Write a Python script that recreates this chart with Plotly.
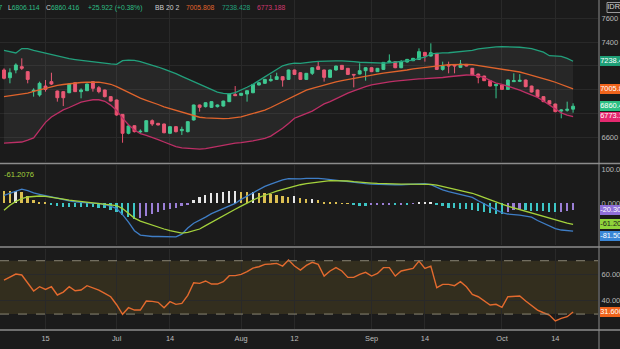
import plotly.graph_objects as go

# ---------------- data ----------------
tick_days = [7, 19, 28, 40, 49, 62, 71, 84, 93]
tick_labels = ["15", "Jul", "14", "Aug", "12", "Sep", "14", "Oct", "14"]

# price grid levels; the ones sitting under last-value markers carry no label
price_levels = [6600, 6800, 7000, 7200, 7400, 7600]
price_level_labels = ["6600", "", "", "", "7400", "7600"]

open_ = [7165, 7100, 7165, 7193, 7151, 6988, 6955, 7030, 7067, 6988,
         6983, 6974, 7058, 6983, 6991, 7067, 7016, 6997, 6941, 6913,
         6792, 6633, 6697, 6645, 6647, 6739, 6717, 6711, 6633, 6689,
         6655, 6647, 6745, 6871, 6857, 6851, 6857, 6862, 6899, 6960,
         6952, 6963, 6974, 7039, 7053, 7075, 7086, 7109, 7086, 7165,
         7142, 7086, 7137, 7193, 7165, 7103, 7165, 7204, 7179, 7128,
         7131, 7159, 7184, 7151, 7170, 7229, 7235, 7184, 7232, 7243,
         7254, 7313, 7282, 7305, 7170, 7210, 7210, 7187, 7212, 7179,
         7131, 7114, 7075, 7033, 7039, 7002, 7067, 7070, 7081, 7030,
         6997, 6941, 6907, 6879, 6820, 6826, 6836]
high = [7179, 7179, 7221, 7263, 7155, 7011, 7067, 7081, 7142, 6992,
        6986, 7050, 7062, 7011, 7050, 7070, 7030, 7000, 6945, 6916,
        6795, 6700, 6700, 6666, 6742, 6750, 6720, 6715, 6692, 6692,
        6689, 6734, 6874, 6874, 6893, 6902, 6875, 6907, 6966, 7030,
        6972, 6994, 7047, 7062, 7090, 7123, 7142, 7112, 7168, 7168,
        7146, 7140, 7187, 7235, 7168, 7168, 7201, 7207, 7182, 7130,
        7221, 7187, 7187, 7182, 7232, 7296, 7238, 7249, 7258, 7266,
        7347, 7316, 7389, 7308, 7235, 7235, 7212, 7249, 7215, 7182,
        7134, 7117, 7078, 7047, 7042, 7084, 7137, 7130, 7084, 7033,
        7000, 6944, 6910, 6882, 6835, 6899, 6885.247]
low = [7086, 7053, 7137, 7165, 7053, 6941, 6941, 6983, 7039, 6899,
       6862, 6970, 6980, 6927, 6988, 6983, 6969, 6935, 6900, 6780,
       6554, 6625, 6640, 6633, 6644, 6695, 6700, 6633, 6628, 6640,
       6619, 6640, 6740, 6815, 6850, 6846, 6850, 6858, 6895, 6946,
       6948, 6899, 6970, 7035, 7050, 7067, 7084, 7025, 7082, 7125,
       7082, 7082, 7123, 7165, 7067, 7100, 7160, 7165, 7125, 7019,
       7128, 7075, 7148, 7148, 7165, 7226, 7180, 7180, 7228, 7240,
       7250, 7235, 7278, 7165, 7159, 7137, 7137, 7184, 7195, 7120,
       7053, 7072, 7027, 6927, 6998, 6998, 7064, 7066, 7020, 6976,
       6937, 6895, 6875, 6810, 6759, 6815, 6806.114]
close = [7095, 7142, 7207, 7179, 7086, 6994, 7053, 7002, 7047, 6932,
         6932, 7047, 6983, 6997, 7047, 7011, 6983, 6941, 6904, 6787,
         6633, 6695, 6647, 6650, 6739, 6711, 6703, 6638, 6689, 6647,
         6666, 6731, 6871, 6851, 6890, 6899, 6871, 6904, 6963, 6949,
         6969, 6991, 7044, 7058, 7086, 7086, 7109, 7081, 7165, 7128,
         7086, 7137, 7184, 7170, 7103, 7165, 7198, 7170, 7128, 7123,
         7159, 7184, 7151, 7179, 7229, 7240, 7184, 7235, 7254, 7263,
         7319, 7282, 7310, 7170, 7198, 7198, 7198, 7215, 7198, 7123,
         7103, 7075, 7030, 7044, 7002, 7081, 7075, 7078, 7025, 6980,
         6941, 6899, 6879, 6815, 6829, 6834.494, 6860.416]

bb_upper = [7330, 7318, 7308, 7345, 7345, 7330, 7318, 7305, 7292, 7280,
            7268, 7260, 7253, 7246, 7240, 7235, 7230, 7223, 7216, 7212,
            7243, 7248, 7245, 7235, 7222, 7208, 7190, 7172, 7155, 7135,
            7112, 7090, 7068, 7050, 7025, 7000, 6980, 6968, 6965, 6975,
            6995, 7020, 7045, 7075, 7105, 7140, 7170, 7200, 7215, 7222,
            7220, 7228, 7234, 7237, 7240, 7240, 7241, 7241, 7240, 7236,
            7230, 7228, 7224, 7221, 7222, 7226, 7230, 7236, 7242, 7248,
            7262, 7272, 7300, 7306, 7308, 7310, 7314, 7318, 7320, 7330,
            7342, 7350, 7356, 7360, 7362, 7362, 7360, 7356, 7350, 7345,
            7330, 7315, 7285, 7285, 7280, 7262, 7238.428]
bb_mid = [6942, 6948, 6955, 6962, 6970, 6985, 6998, 7012, 7025, 7035,
          7043, 7050, 7055, 7060, 7062, 7064, 7063, 7055, 7045, 7025,
          7000, 6978, 6950, 6928, 6910, 6895, 6875, 6855, 6840, 6825,
          6810, 6795, 6782, 6768, 6762, 6758, 6756, 6756, 6758, 6762,
          6772, 6785, 6800, 6815, 6828, 6850, 6875, 6900, 6925, 6950,
          6970, 6995, 7010, 7025, 7040, 7053, 7065, 7076, 7086, 7096,
          7106, 7116, 7123, 7131, 7138, 7144, 7150, 7158, 7165, 7175,
          7182, 7188, 7196, 7200, 7204, 7209, 7211, 7212, 7212, 7210,
          7203, 7196, 7188, 7180, 7173, 7166, 7158, 7148, 7135, 7122,
          7108, 7092, 7078, 7062, 7044, 7025, 7005.808]
bb_lower = [6550, 6552, 6555, 6560, 6575, 6595, 6660, 6725, 6770, 6800,
            6830, 6850, 6875, 6895, 6905, 6915, 6915, 6902, 6870, 6825,
            6760, 6705, 6660, 6630, 6615, 6600, 6580, 6560, 6540, 6522,
            6510, 6505, 6500, 6500, 6505, 6515, 6522, 6535, 6545, 6550,
            6555, 6560, 6570, 6580, 6590, 6610, 6640, 6675, 6715, 6760,
            6780, 6800, 6820, 6850, 6880, 6900, 6925, 6950, 6970, 6990,
            7010, 7025, 7040, 7050, 7058, 7065, 7072, 7078, 7082, 7086,
            7090, 7092, 7094, 7096, 7102, 7108, 7115, 7120, 7123, 7122,
            7115, 7100, 7075, 7055, 7045, 7030, 7010, 6995, 6975, 6955,
            6935, 6905, 6870, 6840, 6805, 6785, 6773.188]

macd_line = [24, 30, 38, 42, 38, 31, 27, 23, 18, 14,
             11, 8, 5, 3, 1, 0, 0, -3, -8, -15,
             -33, -55, -80, -93, -96, -97, -97, -98, -98, -98,
             -90, -72, -58, -50, -40, -30, -22, -14, -7, 0,
             12, 22, 30, 40, 50, 57, 64, 69, 73, 72,
             72, 74, 75, 74, 72, 70, 67, 64, 62, 60,
             59, 58, 57, 56, 55, 55, 55, 55, 56, 57,
             58, 58, 55, 47, 40, 35, 31, 28, 24, 18,
             8, 0, -10, -19, -27, -31, -32, -34, -37, -40,
             -50, -58, -66, -74, -78, -80, -81.5]
signal_line = [-20, -5, 6, 14, 19, 21, 22, 21, 19, 16,
               13, 10, 8, 6, 4, 3, 2, 0, -2, -6,
               -15, -30, -43, -52, -58, -65, -70, -75, -80, -84,
               -87, -85, -80, -75, -65, -55, -46, -35, -25, -17,
               -8, 2, 10, 18, 25, 30, 36, 41, 46, 51,
               55, 58, 61, 63, 65, 67, 67, 67, 66, 64,
               62, 61, 60, 59, 58, 57, 57, 57, 57, 57,
               57, 57, 56, 54, 50, 46, 42, 38, 35, 30,
               24, 17, 10, 3, -2, -8, -13, -18, -23, -28,
               -33, -40, -45, -50, -55, -58, -61.2076]
macd_hist = [38, 36, 38, 34, 22, 10, 5, 2, -2, -8,
             -9, -9.5, -10, -10.5, -11, -11.5, -12, -14, -18, -26,
             -34, -41, -46, -44, -38, -31, -25, -20, -16, -12,
             -8, -3, 10, 19, 26, 30, 32, 34, 36, 37,
             35, 34, 35, 32, 30, 28, 26, 23, 20, 21,
             15, 13, 14, 10, 5, 3, 2, 1, 0.5, -4,
             -6, -6.5, -5, -4.5, -4, -3, -4, -2, -3, -1,
             2, 2.5, 3, -3, -8, -12, -13, -15, -16, -18,
             -22, -25, -28, -30, -31, -25, -20, -18, -19, -21,
             -22, -23, -24, -25, -24, -22, -20.3]

rsi = [55.5, 58, 60, 59.3, 53, 47.3, 50.5, 48.5, 50.5, 44.3,
       46.5, 50.5, 47.5, 48, 51.3, 49.5, 48, 45.5, 43, 37,
       29.8, 34.8, 33, 33, 39.8, 39.5, 38.8, 34.8, 39.3, 37.3,
       38, 44, 53.5, 53, 54.8, 52.5, 52.5, 54.3, 58.8, 58.8,
       59.8, 61.8, 64.5, 65.5, 67.3, 67.5, 68, 66, 70.5, 66,
       63, 66.5, 68.8, 67.3, 58.5, 62.3, 64.8, 62.3, 57.5, 57.5,
       59.8, 61.3, 58.5, 60.5, 64.8, 64.8, 58.5, 62.3, 63.5, 64.3,
       69.8, 64.3, 66, 49.8, 52.3, 52.3, 51.3, 54.3, 50.5, 44.8,
       43, 40, 36.8, 37.3, 35, 43, 43.5, 43.5, 39.8, 36.3,
       33, 31, 29.3, 24.8, 26.8, 28, 31.6]

day = list(range(len(close)))

# ---------------- styling ----------------
W, H = 620, 349
BG = "#1b1b1b"
GRID = "#292929"
SEP = "#8c8c8c"
TXT = "#b8b8b8"
FONT = "Liberation Sans, Arial, sans-serif"
UP, DOWN = "#35c78d", "#e8506d"
C_UPPER, C_MID, C_LOWER = "#22a07c", "#e0642c", "#bd2f66"
C_MACD, C_SIGNAL = "#3f7ec6", "#a4d23c"
C_RSI = "#e36a2e"
H_WHITE, H_YELLOW, H_TEAL, H_PURPLE = "#e6e6e6", "#dcbf52", "#3dc6c6", "#9b7fd6"
X_END = 598 / W
SCALE_X0 = 599 / W

# pane rows (pixels from the top) and value ranges
PRICE_ROWS, PRICE_RANGE = (0, 162), (6392, 7753)
MACD_ROWS, MACD_RANGE = (165, 245), (-122, 113)
RSI_ROWS, RSI_RANGE = (249, 329), (18.8, 78.8)


def py(row):
    """paper y for a pixel row counted from the top"""
    return 1 - row / H


def dom(rows):
    return [py(rows[1]), py(rows[0])]


def hist_colour(k):
    v = macd_hist[k]
    prev = macd_hist[k - 1] if k else v + 1
    if v >= 0:
        return H_WHITE if v > prev else H_YELLOW
    return H_TEAL if v < prev else H_PURPLE


fig = go.Figure()

# Bollinger bands
fig.add_trace(go.Scatter(x=day, y=bb_upper, mode="lines", yaxis="y",
                         line=dict(color=C_UPPER, width=1.3), hoverinfo="skip"))
fig.add_trace(go.Scatter(x=day, y=bb_lower, mode="lines", yaxis="y",
                         line=dict(color=C_LOWER, width=1.3), fill="tonexty",
                         fillcolor="rgba(255,255,255,0.055)", hoverinfo="skip"))
fig.add_trace(go.Scatter(x=day, y=bb_mid, mode="lines", yaxis="y",
                         line=dict(color=C_MID, width=1.3), hoverinfo="skip"))

# candles
fig.add_trace(go.Candlestick(
    x=day, open=open_, high=high, low=low, close=close, yaxis="y",
    increasing=dict(line=dict(color=UP, width=1), fillcolor=UP),
    decreasing=dict(line=dict(color=DOWN, width=1), fillcolor=DOWN),
    whiskerwidth=0, hoverinfo="skip"))

# MACD
fig.add_trace(go.Bar(x=day, y=macd_hist, yaxis="y2", width=0.3,
                     marker=dict(color=[hist_colour(k) for k in day], line=dict(width=0)),
                     hoverinfo="skip"))
fig.add_trace(go.Scatter(x=day, y=macd_line, mode="lines", yaxis="y2",
                         line=dict(color=C_MACD, width=1.3), hoverinfo="skip"))
fig.add_trace(go.Scatter(x=day, y=signal_line, mode="lines", yaxis="y2",
                         line=dict(color=C_SIGNAL, width=1.3), hoverinfo="skip"))

# RSI
fig.add_trace(go.Scatter(x=day, y=rsi, mode="lines", yaxis="y3",
                         line=dict(color=C_RSI, width=1.4), hoverinfo="skip"))

axis_common = dict(side="right", anchor="x", showline=False, zeroline=False,
                   ticks="outside", ticklen=1, tickcolor=BG, ticklabelstandoff=0,
                   automargin=False,
                   tickfont=dict(size=7.5, color=TXT, family=FONT),
                   gridcolor=GRID, gridwidth=1, fixedrange=True)
hidden = dict(visible=False, fixedrange=True, showgrid=False, zeroline=False,
              automargin=False)

fig.update_layout(
    width=W, height=H, margin=dict(l=0, r=0, t=0, b=0, pad=0, autoexpand=False),
    paper_bgcolor=BG, plot_bgcolor=BG, showlegend=False, bargap=0,
    font=dict(family=FONT, color=TXT, size=7),
    xaxis=dict(domain=[0, X_END], range=[-0.675, 100.2], anchor="y3",
               tickmode="array", tickvals=tick_days, ticktext=tick_labels,
               showgrid=True, gridcolor=GRID, zeroline=False, showline=False, ticks="",
               ticklabelstandoff=4, color=TXT, automargin=False,
               tickfont=dict(size=7.4, color="#bdbdbd", family=FONT),
               rangeslider=dict(visible=False), fixedrange=True),
    yaxis=dict(domain=dom(PRICE_ROWS), range=list(PRICE_RANGE),
               tickmode="array", tickvals=price_levels, ticktext=price_level_labels,
               showgrid=True, **axis_common),
    yaxis2=dict(domain=dom(MACD_ROWS), range=list(MACD_RANGE),
                tickmode="array", tickvals=[0, 100], ticktext=["0.000", "100.000"],
                showgrid=False, **axis_common),
    yaxis3=dict(domain=dom(RSI_ROWS), range=list(RSI_RANGE),
                tickmode="array", tickvals=[40, 60], ticktext=["40.00", "60.00"],
                showgrid=True, **axis_common),
    # price-scale strip used for the last-value markers
    xaxis2=dict(domain=[SCALE_X0, 1], range=[0, 21], anchor="y4", **hidden),
    yaxis4=dict(domain=dom(PRICE_ROWS), range=list(PRICE_RANGE), anchor="x2", **hidden),
    yaxis5=dict(domain=dom(MACD_ROWS), range=list(MACD_RANGE), anchor="x2", **hidden),
    yaxis6=dict(domain=dom(RSI_ROWS), range=list(RSI_RANGE), anchor="x2", **hidden),
)

shapes = [
    # RSI 30-70 zone
    dict(type="rect", xref="paper", yref="y3", x0=0, x1=X_END, y0=30, y1=70,
         fillcolor="#332e1e", line=dict(width=0), layer="below"),
    dict(type="line", xref="paper", yref="y3", x0=0, x1=X_END, y0=70, y1=70,
         line=dict(color="#8a8674", width=1, dash="dash"), layer="above"),
    dict(type="line", xref="paper", yref="y3", x0=0, x1=X_END, y0=30, y1=30,
         line=dict(color="#8a8674", width=1, dash="dash"), layer="above"),
]
# pane separators and the price-scale divider
for row in (163.5, 247, 330):
    shapes.append(dict(type="line", xref="paper", yref="paper", x0=0, x1=1,
                       y0=py(row), y1=py(row), line=dict(color=SEP, width=1.6)))
shapes.append(dict(type="line", xref="paper", yref="paper", x0=SCALE_X0, x1=SCALE_X0,
                   y0=0, y1=1, line=dict(color=SEP, width=1)))

ann = []


def label(px, row, text, color, size=6.8, anchor="left"):
    ann.append(dict(xref="paper", yref="paper", x=px / W, y=py(row), text=text,
                    xanchor=anchor, yanchor="middle", showarrow=False,
                    font=dict(size=size, color=color, family=FONT)))


GREY_TXT = "#cfcfcf"
label(3.5, 8, f"H{high[-1]:.3f}", "#2ebd85", anchor="right")
label(6, 8, f"<span style='color:{GREY_TXT}'>L</span>{low[-1]:.3f}", "#2ebd85")
label(44, 8, f"<span style='color:{GREY_TXT}'>C</span>{close[-1]:.3f}", "#2ebd85")
chg = close[-1] - close[-2]
label(86, 8, f"+{chg:.3f} (+{chg / close[-2] * 100:.2f}%)", "#2ebd85")
label(153, 8, "BB 20 2", GREY_TXT)
label(184, 8, f"{bb_mid[-1]:.3f}", C_MID)
label(220, 8, f"{bb_upper[-1]:.3f}", C_UPPER)
label(255, 8, f"{bb_lower[-1]:.3f}", "#d0386f")
label(2, 174, f"{signal_line[-1]:.4f}", C_SIGNAL, size=7.6)

# last-value markers on the price scale: a coloured horizontal bar plus its text,
# both drawn in the scale strip so they sit over the scale and run off the edge
strip_of = {"y": "y4", "y2": "y5", "y3": "y6"}
marks = {s: {"y": [], "text": [], "fg": [], "bg": [], "w": []} for s in strip_of.values()}
units_per_px = {
    "y": (PRICE_RANGE[1] - PRICE_RANGE[0]) / (PRICE_ROWS[1] - PRICE_ROWS[0]),
    "y2": (MACD_RANGE[1] - MACD_RANGE[0]) / (MACD_ROWS[1] - MACD_ROWS[0]),
    "y3": (RSI_RANGE[1] - RSI_RANGE[0]) / (RSI_ROWS[1] - RSI_ROWS[0]),
}
TAG_H = 10  # px


def tag(yref, val, text, bg, fg="#ffffff", shift_px=0):
    m = marks[strip_of[yref]]
    m["y"].append(val + shift_px * units_per_px[yref])
    m["text"].append(text)
    m["fg"].append(fg)
    m["bg"].append(bg)
    m["w"].append(TAG_H * units_per_px[yref])


tag("y", bb_upper[-1], f"{bb_upper[-1]:.3f}", "#1e9f77")
tag("y", bb_mid[-1], f"{bb_mid[-1]:.3f}", "#f0641c")
tag("y", close[-1], f"{close[-1]:.3f}", "#2cbf83")
tag("y", bb_lower[-1], f"{bb_lower[-1]:.3f}", "#e4296f")
tag("y2", macd_hist[-1], f"{macd_hist[-1]:.4f}", "#8f6fd8")
tag("y2", signal_line[-1], f"{signal_line[-1]:.4f}", "#8fd33a", fg="#1b1b1b")
tag("y2", macd_line[-1], f"{macd_line[-1]:.4f}", "#3a86d6", shift_px=-5)
tag("y3", rsi[-1], f"{rsi[-1]:.4f}", "#f0641c")

for yname, m in marks.items():
    fig.add_trace(go.Bar(y=m["y"], x=[30] * len(m["y"]), base=0.5, orientation="h",
                         width=m["w"], marker=dict(color=m["bg"], line=dict(width=0)),
                         xaxis="x2", yaxis=yname, hoverinfo="skip"))
    fig.add_trace(go.Scatter(x=[1.2] * len(m["y"]), y=m["y"], text=m["text"],
                             mode="text", textposition="middle right",
                             textfont=dict(size=7.4, color=m["fg"], family=FONT),
                             xaxis="x2", yaxis=yname, cliponaxis=False, hoverinfo="skip"))

# currency box at the top of the price scale
shapes.append(dict(type="rect", xref="paper", yref="paper", x0=607 / W, x1=1.05,
                   y0=py(12.5), y1=py(2.5), fillcolor=BG,
                   line=dict(color="#9a9a9a", width=1), layer="below"))
fig.add_trace(go.Scatter(x=[8.3], y=[PRICE_RANGE[1] - 7.5 * units_per_px["y"]],
                         text=["IDR"], mode="text", textposition="middle right",
                         textfont=dict(size=7.4, color="#d8d8d8", family=FONT),
                         xaxis="x2", yaxis="y4", cliponaxis=False, hoverinfo="skip"))

fig.update_layout(shapes=shapes, annotations=ann)

fig.write_html("out.html")
